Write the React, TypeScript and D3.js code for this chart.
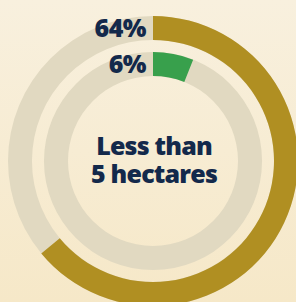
import { arc } from "d3";

const rings = ["Outer", "Inner"];
const values = [64, 6];
const labels = ["64%", "6%"];
const centerLines = ["Less than", "5 hectares"];

export default function App() {
  const width = 296;
  const height = 302;
  const cx = 153;
  const cy = 161;
  const radii = [
    { inner: 121, outer: 145, color: "#b08f22" },
    { inner: 85, outer: 109, color: "#38a04c" },
  ];
  const font = "'Open Sans', 'Noto Sans', sans-serif";

  return (
    <svg
      width={width}
      height={height}
      style={{ position: "absolute", left: 0, top: 0 }}
    >
      <defs>
        <linearGradient id="bg" x1="0" y1="0" x2="0" y2="1">
          <stop offset="0" stopColor="#f8f0de" />
          <stop offset="1" stopColor="#f6e8c8" />
        </linearGradient>
      </defs>
      <rect width={width} height={height} fill="url(#bg)" />
      <g transform={`translate(${cx},${cy})`}>
        {rings.map((name, i) => {
          const r = radii[i];
          const track = arc()({
            innerRadius: r.inner,
            outerRadius: r.outer,
            startAngle: 0,
            endAngle: Math.PI * 2,
          } as any) as string;
          const value = arc()({
            innerRadius: r.inner,
            outerRadius: r.outer,
            startAngle: 0,
            endAngle: (values[i] / 100) * Math.PI * 2,
          } as any) as string;
          return (
            <g key={name}>
              <path d={track} fill="#e1d9c1" />
              <path d={value} fill={r.color} />
              <text
                x={-7}
                y={-(r.inner + r.outer) / 2 + 9}
                textAnchor="end"
                fontFamily={font}
                fontWeight={800}
                fontSize={25}
                fill="#13294b"
                letterSpacing={-0.5}
              >
                {labels[i]}
              </text>
            </g>
          );
        })}
        {/* two-line center caption in one text element */}
        <text
          textAnchor="middle"
          fontFamily={font}
          fontWeight={800}
          fontSize={25}
          fill="#13294b"
          letterSpacing={-0.8}
        >
          {centerLines.map((t, i) => (
            <tspan key={t} x={1} y={-6 + i * 28}>
              {t}
            </tspan>
          ))}
        </text>
      </g>
    </svg>
  );
}
